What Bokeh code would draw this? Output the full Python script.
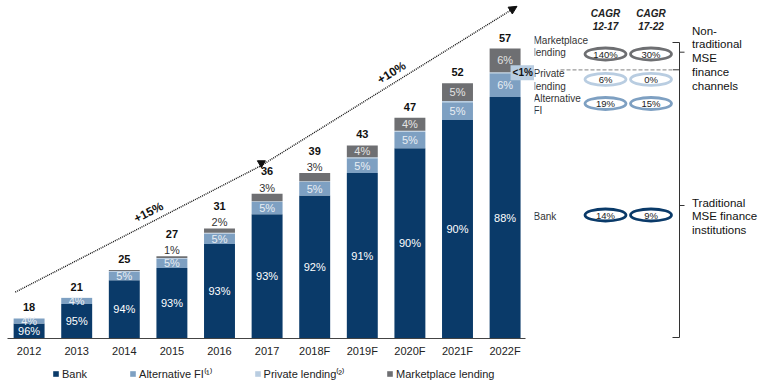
import math
import numpy as np
from bokeh.plotting import figure
from bokeh.models import (ColumnDataSource, Range1d, LinearAxis, FixedTicker, Legend,
                          LegendItem, Arrow, NormalHead, Label)
from bokeh.layouts import row, column
from bokeh.embed import file_html
from bokeh.resources import INLINE
from bokeh.core.properties import value

# ---------------- data ----------------
years = ["2012", "2013", "2014", "2015", "2016", "2017", "2018F", "2019F", "2020F", "2021F", "2022F"]
totals = [18, 21, 25, 27, 31, 36, 39, 43, 47, 52, 57]
bank_pct = [96, 95, 94, 93, 93, 93, 92, 91, 90, 90, 88]
alt_pct = [4, 4, 5, 5, 5, 5, 5, 5, 5, 5, 6]
private_pct = [0, 0.3, 0.3, 0.3, 0.3, 0.3, 0.3, 0.3, 0.3, 0.3, 0.3]
market_pct = [0, 0, 0.6, 1, 2, 3, 3, 4, 4, 5, 6]
private_last_label = "<1%"

series_names = ["Bank", "Alternative FI\u207d\u00b9\u207e", "Private lending\u207d\u00b2\u207e", "Marketplace lending"]
growth_labels = ["+15%", "+10%"]

cagr_headers = [["CAGR", "12-17"], ["CAGR", "17-22"]]
cagr_rows = [["Marketplace", "lending"], ["Private", "lending"], ["Alternative", "FI"], ["Bank"]]
cagr_12_17 = ["140%", "6%", "19%", "14%"]
cagr_17_22 = ["30%", "0%", "15%", "9%"]
group_labels = [["Non-", "traditional", "MSE", "finance", "channels"],
                ["Traditional", "MSE finance", "institutions"]]

# ---------------- styles ----------------
FONT = value("Liberation Sans")
C_BANK = "#0A3A69"
C_ALT = "#7EA0C2"
C_PRIV = "#B9CDE1"
C_MKT = "#6E6F72"
colors = [C_BANK, C_ALT, C_PRIV, C_MKT]

# ---------------- left chart ----------------
W1, H1 = 534, 360
BORDER_B = 22
PX0, PXSTEP = 28.6, 47.6          # bar centre of first bar, bar spacing (px)
Y0 = 15.1
frame_h = H1 - BORDER_B
ky = 6.92                          # px per unit
Y1 = Y0 + frame_h / ky
x_start = (0 - PX0) / PXSTEP
x_end = (W1 - PX0) / PXSTEP
axis_bounds = ((7 - PX0) / PXSTEP, (525 - PX0) / PXSTEP)
kx = PXSTEP

n = len(years)
xs = np.arange(n, dtype=float)
tot = np.array(totals, dtype=float)
pcts = np.vstack([bank_pct, alt_pct, private_pct, market_pct]).astype(float)
segs = pcts / pcts.sum(axis=0) * tot
bank, alt, priv, mkt = segs
bank_top = bank
alt_top = bank + alt
priv_top = alt_top + priv

src = ColumnDataSource(dict(x=xs, bank=bank, alt=alt, priv=priv, mkt=mkt))

p = figure(width=W1, height=H1, x_range=Range1d(x_start, x_end), y_range=Range1d(Y0, Y1),
           x_axis_type=None, y_axis_type=None, output_backend="svg", toolbar_location=None,
           min_border_left=0, min_border_right=0, min_border_top=0,
           min_border_bottom=BORDER_B, outline_line_color=None, background_fill_color="white",
           border_fill_color="white")
p.grid.visible = False

rs = p.vbar_stack(["bank", "alt", "priv", "mkt"], x="x", width=0.65, color=colors,
                  line_color=None, source=src)

xaxis = LinearAxis(ticker=FixedTicker(ticks=list(range(n))),
                   major_label_overrides={i: y for i, y in enumerate(years)},
                   bounds=axis_bounds)
xaxis.axis_line_color = "#444444"
xaxis.axis_line_width = 1
xaxis.major_tick_line_color = None
xaxis.minor_tick_line_color = None
xaxis.major_tick_out = 0
xaxis.major_tick_in = 0
xaxis.major_label_standoff = 6
xaxis.major_label_text_font = "Liberation Sans"
xaxis.major_label_text_font_size = "11px"
xaxis.major_label_text_color = "#222222"
p.add_layout(xaxis, "below")

# bank labels (middle of visible part)
bank_lab_y = (Y0 + bank_top) / 2
p.text(x=xs, y=bank_lab_y, text=[f"{v}%" for v in bank_pct], text_font=FONT,
       text_font_size="11px", text_color="white", text_align="center", text_baseline="middle")
# alt labels
p.text(x=xs, y=bank_top + alt / 2, text=[f"{v}%" for v in alt_pct], text_font=FONT,
       text_font_size="11px", text_color="#E9EEF4", text_align="center", text_baseline="middle")

# marketplace labels
in_x, in_y, in_t, out_x, out_y, out_t = [], [], [], [], [], []
for i in range(n):
    v = market_pct[i]
    if v >= 4:
        in_x.append(xs[i]); in_y.append(priv_top[i] + mkt[i] / 2); in_t.append(f"{v}%")
    elif v >= 1:
        out_x.append(xs[i]); out_y.append(tot[i] + 6 / ky); out_t.append(f"{v}%")
p.text(x=in_x, y=in_y, text=in_t, text_font=FONT, text_font_size="11px", text_color="#E4E4E4",
       text_align="center", text_baseline="middle")
p.text(x=out_x, y=out_y, text=out_t, text_font=FONT, text_font_size="11px", text_color="#333333",
       text_align="center", text_baseline="middle")

# totals
tot_y = [tot[i] + (22.5 if 1 <= market_pct[i] < 4 else 11) / ky for i in range(n)]
p.text(x=xs, y=tot_y, text=[str(t) for t in totals], text_font=FONT, text_font_size="11px",
       text_font_style="bold", text_color="#111111", text_align="center", text_baseline="middle")

# growth arrows
i17 = years.index("2017")
a0 = (xs[0] - 0.29, tot[0] + 3.8)
a1 = (xs[i17] - 0.12, tot[i17] + 4.1)
a2 = (xs[-1] + 0.25, tot[-1] + 6.1)
p.add_layout(Arrow(x_start=a0[0], y_start=a0[1], x_end=a1[0], y_end=a1[1], end=None,
                   line_dash="1 1", line_width=1.4, line_color="#111111"))
p.add_layout(Arrow(x_start=a1[0], y_start=a1[1], x_end=a2[0], y_end=a2[1],
                   end=NormalHead(size=8, fill_color="#111111", line_color="#111111"),
                   line_dash="1 1", line_width=1.4, line_color="#111111"))
p.scatter(x=[a1[0]], y=[a1[1] + 0.35], marker="inverted_triangle", size=8, color="#111111")

ang1 = math.atan2((a1[1] - a0[1]) * ky, (a1[0] - a0[0]) * kx)
ang2 = math.atan2((a2[1] - a1[1]) * ky, (a2[0] - a1[0]) * kx)
t1 = 0.56
t2 = 0.53
g1 = (a0[0] + t1 * (a1[0] - a0[0]) - 10 * math.sin(ang1) / kx,
      a0[1] + t1 * (a1[1] - a0[1]) + 10 * math.cos(ang1) / ky)
g2 = (a1[0] + t2 * (a2[0] - a1[0]) - 10 * math.sin(ang2) / kx,
      a1[1] + t2 * (a2[1] - a1[1]) + 10 * math.cos(ang2) / ky)
p.text(x=[g1[0], g2[0]], y=[g1[1], g2[1]], text=growth_labels, angle=[ang1, ang2],
       text_font=FONT, text_font_size="12px", text_font_style="bold", text_color="#111111",
       text_align="center", text_baseline="middle")

# <1% callout
p.add_layout(Label(x=xs[-1] + 0.37, y=priv_top[-1] - 0.1, text=private_last_label,
                   text_font="Liberation Sans", text_font_size="10px", text_font_style="bold",
                   text_color="#111111", text_align="center", text_baseline="middle",
                   background_fill_color=C_PRIV, padding=2))

# ---------------- legend strip ----------------
HL = 26
pl = figure(width=W1, height=HL, x_range=Range1d(0, 1), y_range=Range1d(0, 1),
            x_axis_type=None, y_axis_type=None, output_backend="svg", toolbar_location=None,
            min_border=0, outline_line_color=None, background_fill_color="white",
            border_fill_color="white")
pl.grid.visible = False
leg_rs = [pl.vbar(x=[5], top=[1], width=0.1, color=c, line_color=None) for c in colors]
legend = Legend(items=[LegendItem(label=series_names[k], renderers=[leg_rs[k]]) for k in range(4)],
                orientation="horizontal", location=(52, 5), spacing=42, glyph_width=7,
                glyph_height=7, label_standoff=3, padding=0, margin=0, label_height=12,
                border_line_color=None, background_fill_alpha=0,
                label_text_font="Liberation Sans", label_text_font_size="11px",
                label_text_color="#222222")
pl.add_layout(legend, "center")

# ---------------- right panel (CAGR table) ----------------
X0R, X1R = W1, 769
W2 = X1R - X0R
p2 = figure(width=W2, height=H1, x_range=Range1d(X0R, X1R), y_range=Range1d(H1 - BORDER_B, 0),
            x_axis_type=None, y_axis_type=None, output_backend="svg", toolbar_location=None,
            min_border_left=0, min_border_right=0, min_border_top=0, min_border_bottom=BORDER_B,
            outline_line_color=None, background_fill_color="white", border_fill_color="white")
p2.grid.visible = False

col_x = [605, 650.5]
head_y = [12.7, 25]
for cx, lines in zip(col_x, cagr_headers):
    p2.text(x=[cx] * len(lines), y=head_y, text=lines, text_font=FONT, text_font_size="10px",
            text_font_style="bold italic", text_color="#222222", text_align="center",
            text_baseline="middle")

row_y = [53.5, 78.8, 103.0, 214.5]
row_label_y = [46.0, 79.5, 104.0, 215.5]
ring_colors = [C_MKT, C_PRIV, C_ALT, C_BANK]
ex, ey, ec, et = [], [], [], []
for r in range(4):
    for c, vals in enumerate([cagr_12_17, cagr_17_22]):
        ex.append(col_x[c]); ey.append(row_y[r]); ec.append(ring_colors[r]); et.append(vals[r])
p2.ellipse(x=ex, y=ey, width=41, height=12, fill_color="white", line_color=ec, line_width=2.8)
p2.text(x=ex, y=ey, text=et, text_font=FONT, text_font_size="9.5px", text_color="#222222",
        text_align="center", text_baseline="middle")

lx, ly, lt = [], [], []
for r, lines in enumerate(cagr_rows):
    k = len(lines)
    for j, s in enumerate(lines):
        lx.append(X0R - 1); ly.append(row_label_y[r] + (j - (k - 1) / 2) * 12.3); lt.append(s)
p2.text(x=lx, y=ly, text=lt, text_font=FONT, text_font_size="10px", text_color="#333333",
        text_align="left", text_baseline="middle")

# separator and bracket
p2.segment(x0=[560], y0=[69.3], x1=[672], y1=[69.3], line_color="#9A9A9A", line_width=1.2,
           line_dash="4 2")
bx = 679
p2.segment(x0=[bx, 672, 672.5, bx, bx, 672], y0=[42, 42, 69.3, 51.7, 205, 337],
           x1=[bx, bx, bx, 684, 684, bx], y1=[337, 42, 69.3, 51.7, 205, 337],
           line_color="#333333", line_width=1)

gx, gy, gt = [], [], []
for lines, y_top in zip(group_labels, [30, 202]):
    for j, s in enumerate(lines):
        gx.append(691.5); gy.append(y_top + j * 13.9); gt.append(s)
p2.text(x=gx, y=gy, text=gt, text_font=FONT, text_font_size="11.5px", text_color="#111111",
        text_align="left", text_baseline="middle")

layout = column(row(p, p2, spacing=0), pl, spacing=0)
open("out.html", "w").write(file_html(layout, INLINE))
